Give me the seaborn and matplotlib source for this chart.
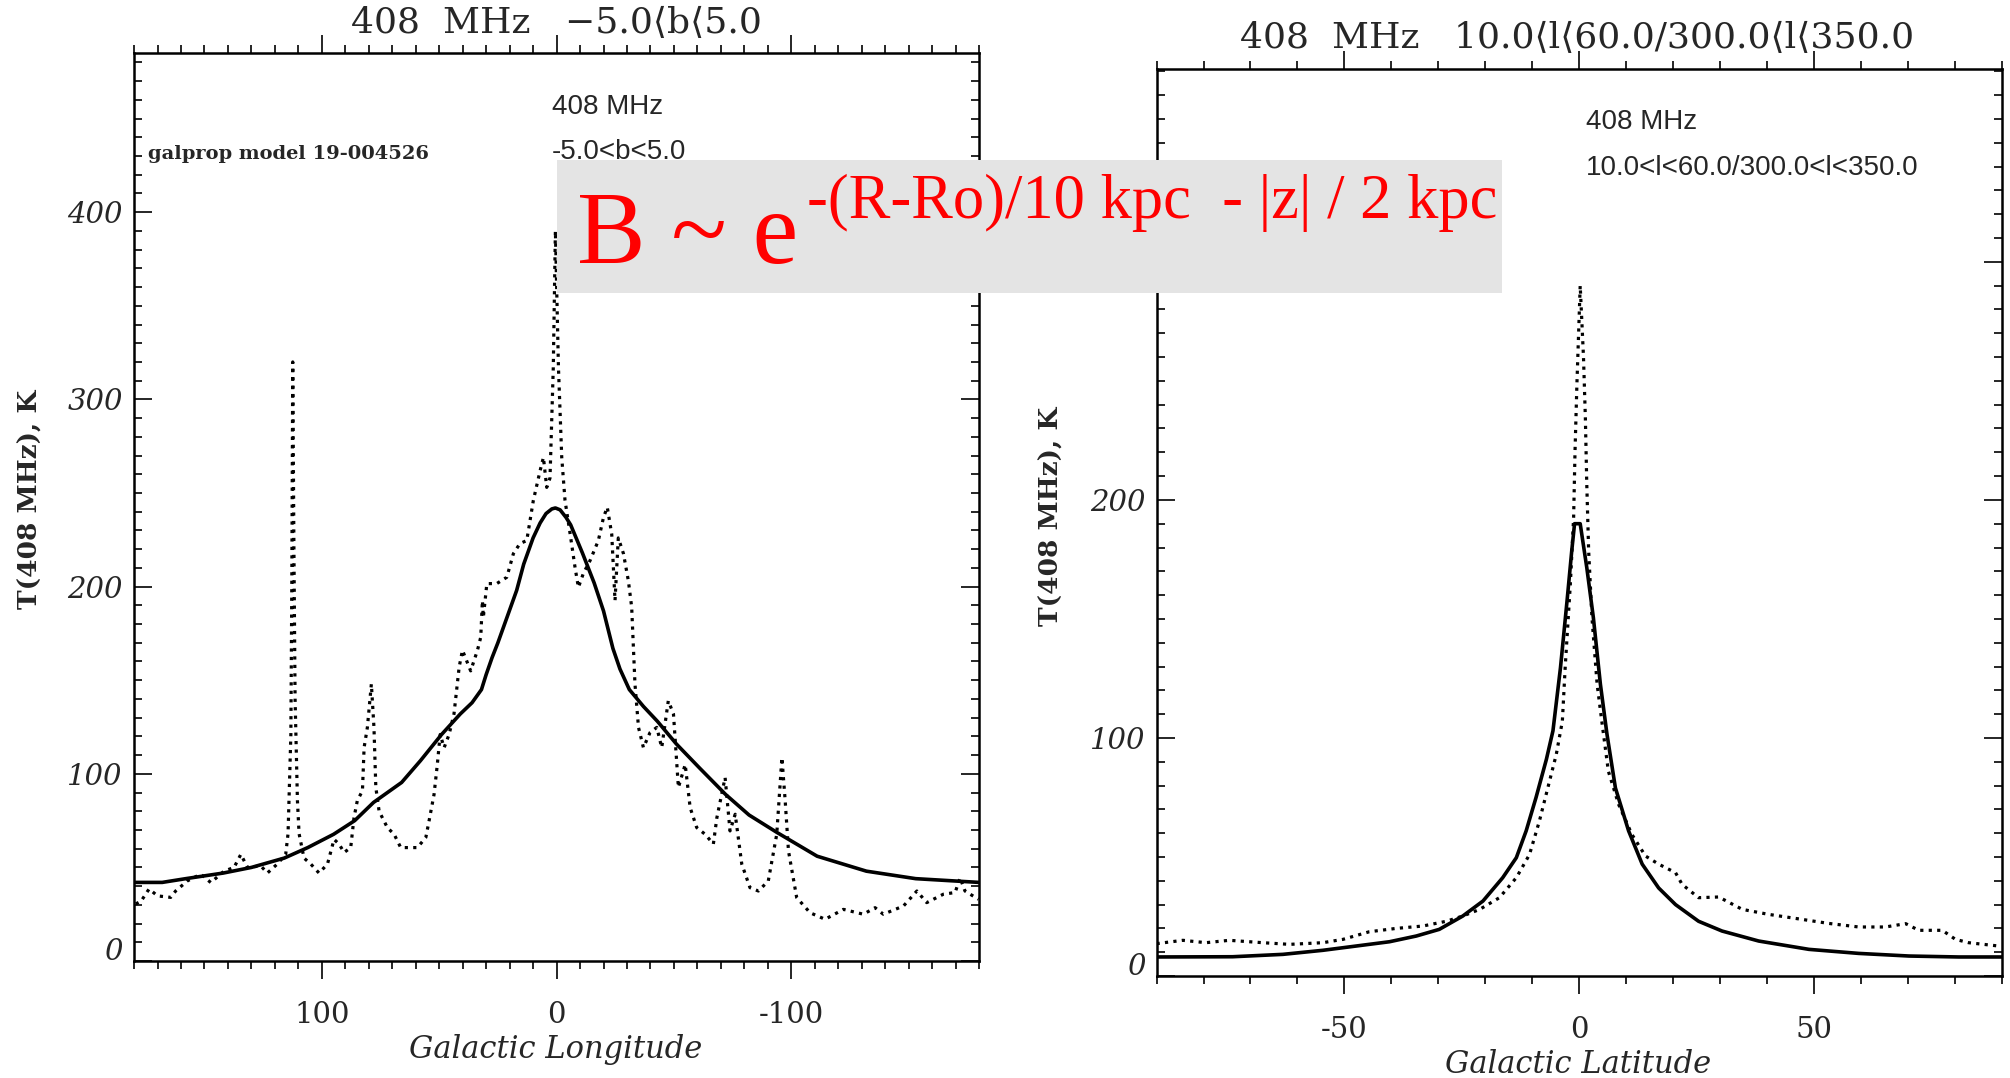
import numpy as np
import pandas as pd
import seaborn as sns
import matplotlib.pyplot as plt
import matplotlib.transforms as mtransforms
from matplotlib.ticker import MultipleLocator
from matplotlib.patches import Rectangle

# longitude profile, -5 < b < 5 (model = solid, survey = dotted)
model_l = [180, 168, 158, 142, 130, 116, 106, 95, 86, 78, 66, 58, 49, 41, 36, 32, 30, 27.5, 25, 21,
           17, 14, 10, 7, 4.5, 2, 0.5, -1.5, -4, -6, -11, -16, -20, -24, -27, -31, -37, -43, -51,
           -61, -72, -82, -94, -111, -132, -153, -180]
model_T = [42, 42, 44, 47, 50, 55, 60.6, 67.7, 75, 84.7, 95.4, 107, 121, 132, 138, 145, 153, 162, 170, 184,
           198, 212, 226, 234, 239, 241.5, 242, 241, 237, 233, 218, 202, 187, 167, 156, 145, 136, 128, 116,
           103, 89, 78, 68.6, 56, 48, 44, 42]

data_l = [179.3, 177, 173.6, 170, 164.4, 162.3, 157.3, 151.6, 147.3, 141.7, 137.4, 134.5, 131.7,
          126, 123.2, 119, 115.4, 114.4, 113.2, 112.8, 112.4, 111.9, 111.4, 110.4, 109.7, 107.6,
          104.7, 101.2, 97.6, 94.8, 92.7, 90.5, 87.7, 86.3, 84.9, 82.7, 82, 80.6, 78.9, 77.8, 77,
          75.6, 72.1, 69.2, 66.4, 62.1, 59.3, 55.7, 54.3, 52.2, 50.8, 49.6, 47.9, 45.8, 43.7, 41.5,
          40.1, 36.6, 33.7, 32.3, 31.6, 31.2, 29.7, 25.5, 21.2, 18.4, 15.6, 12.7, 9.9, 7, 5.6, 4.2,
          2.8, 1.4, 0.5, -0.8, -2.2, -3.6, -5.8, -7.9, -9.3, -11.4, -14.3, -17.8, -20, -21.6, -23.5,
          -24.9, -26.3, -28.5, -30.6, -32, -33.4, -34.9, -37, -39.8, -42.7, -44.8, -47.6, -49.8,
          -51.9, -54.8, -56.9, -59.7, -63.3, -66.8, -68.3, -71.8, -73.9, -76.1, -78.9, -82.4, -86,
          -90.2, -93.8, -96, -97.4, -98.8, -102.3, -108, -114.4, -122.2, -130.7, -135.7, -139.2,
          -147.8, -153.5, -157.7, -164.8, -169.8, -171.9, -174, -179.7]
data_T = [30.5, 32, 38.5, 34.8, 34, 37.4, 42.8, 46.4, 41.9, 48, 50, 57, 50,
          50.8, 47, 51.8, 57, 68, 121, 200, 320, 220, 140, 85.6, 68, 55,
          51.8, 47, 51.8, 65, 62.5, 58, 60.6, 76.6, 85.6, 91, 114, 124.8, 148, 124.8, 92.7,
          80, 71.3, 67.7, 60.6, 60.6, 60.6, 66, 75, 89, 105, 121, 114, 121, 132, 157,
          166, 155, 166, 173, 192.5, 183.6, 201.6, 201.6, 205, 217.6, 223, 224.6, 246, 262, 269, 253,
          258, 317, 390, 317, 269, 246, 228, 210, 199.6, 207, 214, 224.6, 237, 242.4, 228,
          192.5, 226, 217.6, 203, 189, 148, 124.8, 114, 122, 124.8, 114, 139, 132,
          92.7, 105, 82, 71.3, 67.7, 62.5, 76.6, 98, 69.5, 78.4, 51.8, 39.2, 37.4,
          42.8, 67.7, 108.7, 85.6, 58.8, 33.9, 25.8, 22.3, 27.6, 25, 28.5, 25,
          29.4, 37.4, 31.2, 35.7, 36.6, 44.5, 37.4, 33]

# latitude profile, 10 < l < 60 / 300 < l < 350
model_b = [-90, -73.8, -63.1, -54.6, -47.5, -40.4, -34.7, -29.8, -24.8, -20.5, -16.3, -13.4, -11.3,
           -9.2, -7, -5.6, -4, -2.6, -1.6, -1.0, 0.2, 1.6, 3.0, 4.5, 5.9, 7.7, 10.5, 13.4, 16.9,
           20.5, 25.4, 30.4, 38.2, 48.9, 59.5, 70.2, 80.8, 90]
model_Tb = [8, 8.1, 9.1, 10.8, 12.6, 14.4, 16.8, 19.6, 25.2, 31.5, 41.3, 49.7, 61,
            75, 91, 103, 129.5, 157.6, 178.6, 190, 190, 171.6, 150.6, 122.6, 101.6, 79, 61, 47, 37,
            30, 23, 18.9, 14.7, 11.2, 9.5, 8.4, 8, 8]

data_b = [-90, -84.4, -79.5, -74.5, -67.4, -61.7, -54.6, -50.3, -44.7, -39, -33.3, -28.3, -24.8,
          -21.2, -17, -13.4, -10.6, -8.5, -6.7, -4.9, -3.6, -3, -1.9, -1.2, -0.9, -0.5, 0.2, 0.9,
          1.3, 1.6, 2.0, 2.7, 3.8, 4.8, 6.2, 8.4, 11.2, 14.1, 16.9, 20.5, 21.9, 25.4, 29.7, 34.7,
          40.3, 47.4, 53.1, 59.5, 65.2, 69.5, 72.3, 77.3, 80.1, 82.9, 89.3]
data_Tb = [13.6, 15, 14, 15, 14, 13.3, 14, 15.4, 18.6, 20, 21, 23, 25.2,
           28, 32.9, 41.3, 51, 65, 79, 93, 107, 129.5, 164.6, 192.6, 220.6, 248.6, 290, 260,
           234.5, 206.6, 178.6, 150.6, 122.6, 107, 86, 72, 59.5, 50.4, 47, 43.4, 38.5, 32.9, 33.2, 28,
           25.9, 23.8, 22.1, 20.6, 20.6, 22, 19.2, 19.2, 15.4, 14, 12.6]

lon_ticks = [100, 0, -100]
lat_ticks = [-50, 0, 50]

sns.set_style("ticks")
plt.rcParams['font.family'] = ['DejaVu Serif', 'DejaVu Sans']
plt.rcParams['axes.unicode_minus'] = False

fig = plt.figure(figsize=(20.1, 10.78), dpi=100)
ax1 = fig.add_axes([0.0667, 0.1085, 0.4204, 0.8423])
ax2 = fig.add_axes([0.5754, 0.0946, 0.4206, 0.8414])

sns.lineplot(x=data_l, y=data_T, ax=ax1, color='black', linestyle=':', linewidth=2.3,
             sort=False, estimator=None)
sns.lineplot(x=model_l, y=model_T, ax=ax1, color='black', linewidth=2.6,
             sort=False, estimator=None)
sns.lineplot(x=data_b, y=data_Tb, ax=ax2, color='black', linestyle=':', linewidth=2.3,
             sort=False, estimator=None)
sns.lineplot(x=model_b, y=model_Tb, ax=ax2, color='black', linewidth=2.6,
             sort=False, estimator=None)

ax1.set_xlim(180, -180)
ax1.set_ylim(0, 485)
ax2.set_xlim(-90, 90)
ax2.set_ylim(0, 381)

for ax, xt, yt in [(ax1, lon_ticks, [0, 100, 200, 300, 400]), (ax2, lat_ticks, [0, 100, 200, 300])]:
    ax.set_xticks(xt)
    ax.set_xticklabels([str(v) for v in xt], fontsize=21)
    ax.set_yticks(yt)
    ax.set_yticklabels([str(v) for v in yt], fontsize=21, fontstyle='italic')
    ax.xaxis.set_minor_locator(MultipleLocator(10))
    ax.yaxis.set_minor_locator(MultipleLocator(10))
    ax.tick_params(axis='x', which='both', direction='out', top=True, bottom=True, width=1.4)
    ax.tick_params(axis='y', which='both', direction='in', left=True, right=True, width=1.4)
    ax.tick_params(axis='x', which='major', length=13, pad=16)
    ax.tick_params(axis='x', which='minor', length=6)
    ax.tick_params(axis='y', which='major', length=13, pad=8)
    ax.tick_params(axis='y', which='minor', length=6)
    ax.set_xlabel('')
    ax.set_ylabel('')
    for s in ax.spines.values():
        s.set_linewidth(1.8)
        s.set_color('black')
    # the "0" label sits a little above the frame in the original
    zero = ax.get_yticklabels()[0]
    zero.set_transform(zero.get_transform() +
                       mtransforms.ScaledTranslation(0, 0.12, fig.dpi_scale_trans))

# titles and axis labels
fig.text(0.2766, 0.9787, '408  MHz   \u22125.0\u27e8b\u27e85.0', ha='center', va='center', fontsize=26)
fig.text(0.7846, 0.9647, '408  MHz   10.0\u27e8l\u27e860.0/300.0\u27e8l\u27e8350.0', ha='center', va='center', fontsize=26)
fig.text(0.2766, 0.0269, 'Galactic Longitude', ha='center', va='center', fontsize=22, fontstyle='italic')
fig.text(0.785, 0.0125, 'Galactic Latitude', ha='center', va='center', fontsize=22, fontstyle='italic')
fig.text(0.0149, 0.537, 'T(408 MHz), K', ha='center', va='center', rotation=90, fontsize=19, fontweight='bold')
fig.text(0.5229, 0.5213, 'T(408 MHz), K', ha='center', va='center', rotation=90, fontsize=19, fontweight='bold')

# in-plot annotations
sans = ['Liberation Sans', 'DejaVu Sans']
fig.text(0.2746, 0.9007, '408 MHz', ha='left', va='center', fontsize=20, family=sans)
fig.text(0.2746, 0.859, '-5.0<b<5.0', ha='left', va='center', fontsize=20, family=sans)
fig.text(0.0736, 0.857, 'galprop model 19-004526', ha='left', va='center', fontsize=14, fontweight='bold')
fig.text(0.789, 0.8868, '408 MHz', ha='left', va='center', fontsize=20, family=sans)
fig.text(0.789, 0.8442, '10.0<l<60.0/300.0<l<350.0', ha='left', va='center', fontsize=20, family=sans)
fig.text(0.595, 0.8423, 'galprop model 19-004526', ha='left', va='center', fontsize=14, fontweight='bold')

# overlay box with the field formula
serif = ['Liberation Serif', 'DejaVu Serif']
fig.patches.append(Rectangle((0.2771, 0.7282), 0.4701, 0.1234, transform=fig.transFigure,
                             facecolor='#e4e4e4', edgecolor='none', zorder=5))
fig.text(0.2871, 1 - 263 / 1078, 'B ~ e', ha='left', va='baseline', fontsize=74,
         color='#ff0000', zorder=6, family=serif)
fig.text(0.4015, 1 - 218 / 1078, '-(R-Ro)/10 kpc  - |z| / 2 kpc', ha='left', va='baseline',
         fontsize=45, color='#ff0000', zorder=6, family=serif)

fig.savefig('out.png', dpi=100, facecolor='white')
